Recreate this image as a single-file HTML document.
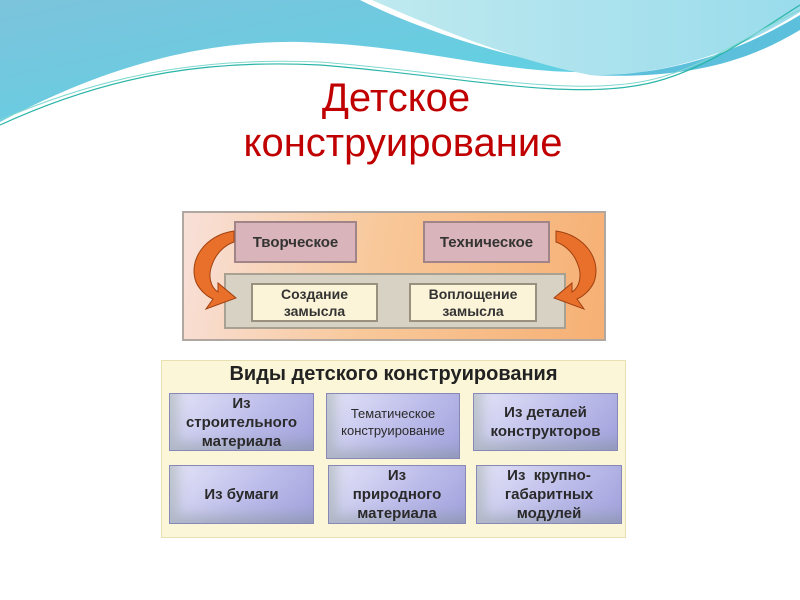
<!DOCTYPE html>
<html><head><meta charset="utf-8"><style>
body{margin:0;width:800px;height:600px;position:relative;background:#fff;font-family:"Liberation Sans",sans-serif;overflow:hidden}
.a{position:absolute;box-sizing:border-box}
.t{display:flex;align-items:center;justify-content:center;text-align:center;font-weight:bold;color:#333}
.p{background:linear-gradient(135deg,#e4e4f8 0%,#bcbcea 55%,#a0a0dc 100%);border:1px solid #8888b8;box-shadow:inset 8px -8px 12px rgba(120,140,120,.35);font-size:15px;line-height:19px;color:#2a2a2a}
</style></head><body>
<svg class="a" style="left:0;top:0" width="800" height="140">
<defs><linearGradient id="g1" x1="0" y1="0" x2="1" y2="1"><stop offset="0" stop-color="#7cc3dc"/><stop offset="1" stop-color="#5ad4e4"/></linearGradient>
<linearGradient id="g2" x1="0" y1="0" x2="1" y2="0"><stop offset="0" stop-color="#bfe9ef"/><stop offset="1" stop-color="#9adcec"/></linearGradient></defs>
<path d="M0,0 H360 C430,35 520,60 590,72 C500,74 420,45 300,42 C180,40 80,80 0,122 Z" fill="url(#g1)"/>
<path d="M372,0 H800 V12 C740,50 670,76 590,75 C520,62 440,30 372,0Z" fill="url(#g2)"/>
<path d="M590,75 C680,76 750,45 800,15 V30 C750,60 690,80 590,75Z" fill="#5cc0dc"/>
<path d="M0,125 C120,70 220,60 320,65 C450,75 560,100 640,85 C700,75 760,30 800,5" fill="none" stroke="#2bb5a8" stroke-width="1.2"/>
<path d="M0,120 C120,68 220,58 320,62 C450,72 560,96 640,82 C700,72 760,28 800,10" fill="none" stroke="#7fd8d0" stroke-width="1"/>
</svg>
<div class="a" style="left:0;top:76px;width:792px;text-align:center;color:#c00000;font-size:40px;line-height:44px">Детское</div>
<div class="a" style="left:0;top:121px;width:806px;text-align:center;color:#c00000;font-size:40px;line-height:44px">конструирование</div>

<div class="a" style="left:182px;top:211px;width:424px;height:130px;background:linear-gradient(100deg,#f8e0d8 0%,#f8c89a 45%,#f6b074 100%);border:2px solid #b0a8a0"></div>
<div class="a t" style="left:234px;top:221px;width:123px;height:42px;background:#d9b4ba;border:2px solid #a08488;font-size:15px">Творческое</div>
<div class="a t" style="left:423px;top:221px;width:127px;height:42px;background:#d9b4ba;border:2px solid #a08488;font-size:15px">Техническое</div>
<div class="a" style="left:224px;top:273px;width:342px;height:56px;background:#d8d2c4;border:2px solid #a8a090"></div>
<div class="a t" style="left:251px;top:283px;width:127px;height:39px;background:#fcf4d8;border:2px solid #9a9080;font-size:14px;line-height:17px">Создание<br>замысла</div>
<div class="a t" style="left:409px;top:283px;width:128px;height:39px;background:#fcf4d8;border:2px solid #9a9080;font-size:14px;line-height:17px">Воплощение<br>замысла</div>
<svg class="a" style="left:180px;top:225px" width="440" height="90">
<path d="M54,6 C25,10 8,35 16,57 C20,66 28,72 33,74 L26,84 L56,73 L38,58 L38,67 C30,62 28,50 32,40 C36,28 45,20 54,17Z" fill="#e8702a" stroke="#a04010" stroke-width="1"/>
<path d="M376,6 C405,10 422,35 414,57 C410,66 402,72 397,74 L404,84 L374,73 L392,58 L392,67 C400,62 402,50 398,40 C394,28 385,20 376,17Z" fill="#e8702a" stroke="#a04010" stroke-width="1"/>
</svg>

<div class="a" style="left:161px;top:360px;width:465px;height:178px;background:#fcf6d8;border:1px solid #e8e0b0"></div>
<div class="a" style="left:161px;top:363px;width:465px;text-align:center;font-weight:bold;font-size:20px;color:#222">Виды детского конструирования</div>
<div class="a t p" style="left:169px;top:393px;width:145px;height:58px">Из<br>строительного<br>материала</div>
<div class="a t p" style="left:326px;top:393px;width:134px;height:66px;font-size:13px;line-height:17px;font-weight:normal;align-items:flex-start;padding-top:11px">Тематическое<br>конструирование</div>
<div class="a t p" style="left:473px;top:393px;width:145px;height:58px">Из деталей<br>конструкторов</div>
<div class="a t p" style="left:169px;top:465px;width:145px;height:59px">Из бумаги</div>
<div class="a t p" style="left:328px;top:465px;width:138px;height:59px">Из<br>природного<br>материала</div>
<div class="a t p" style="left:476px;top:465px;width:146px;height:59px">Из&nbsp; крупно-<br>габаритных<br>модулей</div>
</body></html>
